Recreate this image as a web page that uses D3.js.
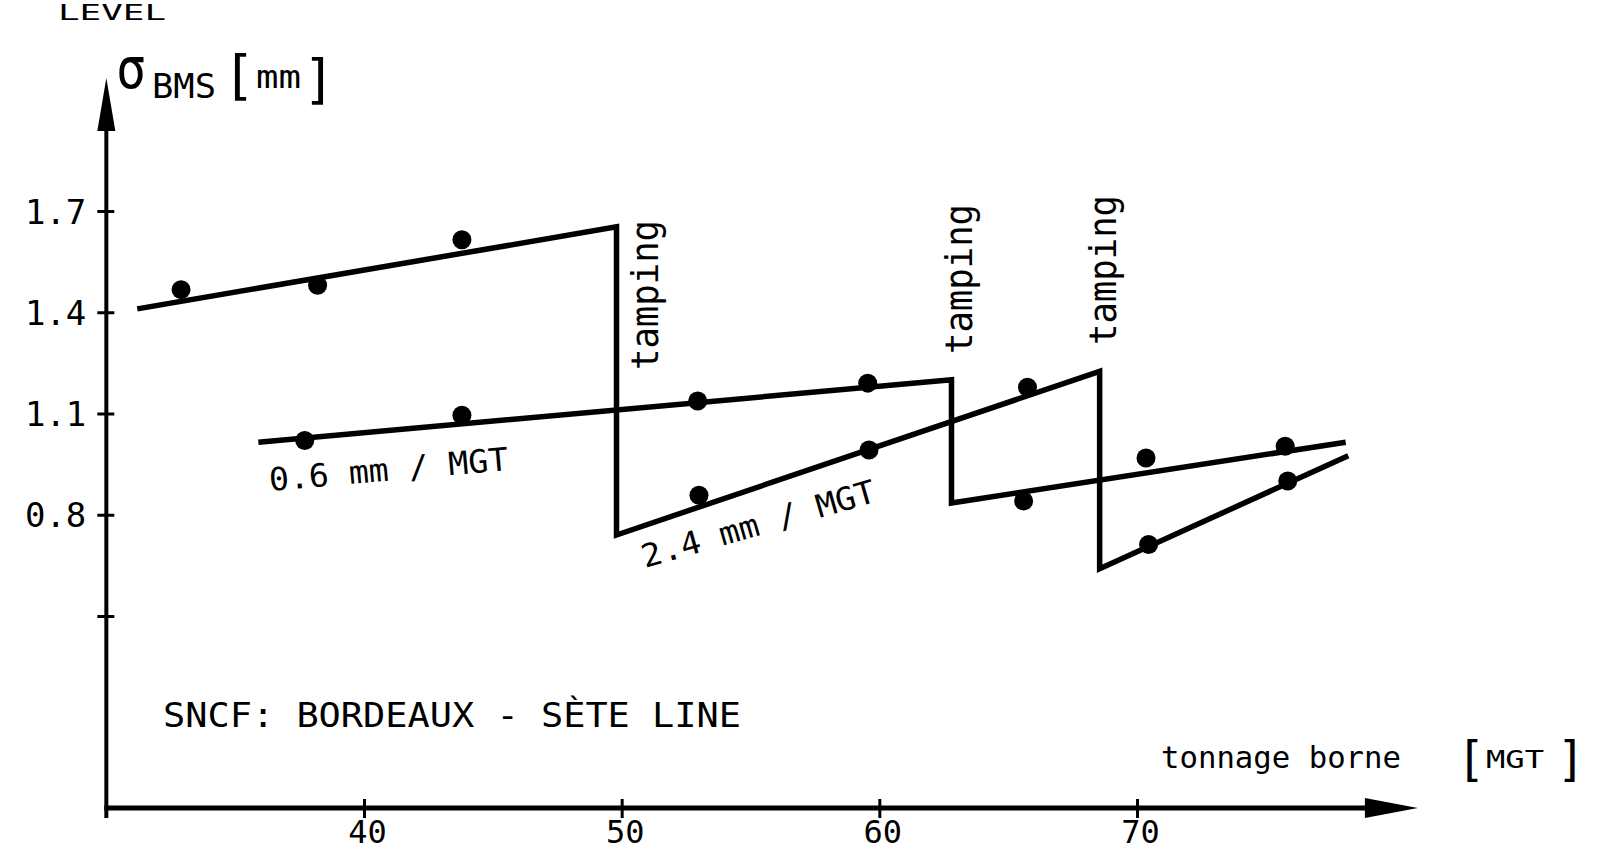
<!DOCTYPE html>
<html><head><meta charset="utf-8">
<script src="https://cdn.jsdelivr.net/npm/d3@7"></script>
<style>
body{margin:0;background:#fff;}
svg{display:block;}
text{font-family:"DejaVu Sans Mono",monospace;fill:#000;}
</style>
</head><body>
<svg id="chart" width="1600" height="852"></svg>
<script>
// ---------- data ----------
const xTicks = [40, 50, 60, 70];
const xTickLabels = ["40", "50", "60", "70"];
const yTicks = [1.7, 1.4, 1.1, 0.8, 0.5];
const yTickLabels = ["1.7", "1.4", "1.1", "0.8", ""];

// track with fast degradation (sawtooth with tampings)
const trackA_tonnage = [31.2, 49.8, 49.8, 68.55, 68.55, 78.2];
const trackA_sigma   = [1.41, 1.653, 0.74, 1.225, 0.64, 0.975];
// track with slow degradation
const trackB_tonnage = [35.9, 62.8, 62.8, 78.1];
const trackB_sigma   = [1.015, 1.2, 0.835, 1.015];

// measured points
const measA_tonnage = [32.9, 38.2, 43.8, 53.0, 59.6, 65.75, 70.45, 75.85];
const measA_sigma   = [1.467, 1.48, 1.615, 0.858, 0.992, 1.178, 0.712, 0.90];
const measB_tonnage = [37.7, 43.8, 52.95, 59.55, 65.6, 70.35, 75.75];
const measB_sigma   = [1.02, 1.095, 1.137, 1.19, 0.841, 0.968, 1.003];

const tampingTonnage = [49.8, 62.8, 68.55];
const tampingText = ["tamping", "tamping", "tamping"];
const rateLabels = ["0.6 mm / MGT", "2.4 mm / MGT"];

// ---------- layout ----------
const W = 1600, H = 852;
const axisY = 808;            // pixel row of the abscissa
const xMin = 30, xArrow = 80.9;
const x = d3.scaleLinear().domain([40, 70]).range([364, 1137]);
const y = d3.scaleLinear().domain([0.5, 1.7]).range([616, 211]);
const x0 = x(xMin);

const svg = d3.select("#chart");
svg.append("rect").attr("width", W).attr("height", H).attr("fill", "#fff");

// ---------- axes ----------
svg.append("line").attr("x1", x0).attr("x2", x0).attr("y1", 110).attr("y2", 818)
  .attr("stroke", "#000").attr("stroke-width", 4);
svg.append("path").attr("d", `M${x0},78 L${x0 - 9},131 L${x0 + 9},131 Z`).attr("fill", "#000");
svg.append("line").attr("x1", x0 - 2).attr("x2", x(xArrow) - 30).attr("y1", axisY).attr("y2", axisY)
  .attr("stroke", "#000").attr("stroke-width", 5);
svg.append("path").attr("d", `M${x(xArrow)},${axisY} L${x(xArrow) - 53},${axisY - 10} L${x(xArrow) - 53},${axisY + 10} Z`)
  .attr("fill", "#000");

const gy = svg.append("g").attr("transform", `translate(${x0},0)`)
  .call(d3.axisLeft(y).tickValues(yTicks).tickFormat((d, i) => yTickLabels[i]).tickSize(9));
gy.select(".domain").remove();
gy.selectAll(".tick line").attr("x1", 8).attr("x2", -9).attr("stroke", "#000").attr("stroke-width", 3);
gy.selectAll(".tick text").attr("x", -20).attr("dy", null).attr("y", 12)
  .attr("font-size", 34).attr("font-family", "DejaVu Sans Mono").attr("fill", "#000");

const gx = svg.append("g").attr("transform", `translate(0,${axisY})`)
  .call(d3.axisBottom(x).tickValues(xTicks).tickFormat((d, i) => xTickLabels[i]).tickSize(10));
gx.select(".domain").remove();
gx.selectAll(".tick line").attr("y1", -9).attr("y2", 10).attr("stroke", "#000").attr("stroke-width", 3);
gx.selectAll(".tick text").attr("y", 35).attr("dy", null).attr("x", 3)
  .attr("font-size", 32).attr("font-family", "DejaVu Sans Mono").attr("fill", "#000");

// ---------- tracks ----------
const line = d3.line().x(d => x(d[0])).y(d => y(d[1]));
const trackA = trackA_tonnage.map((t, i) => [t, trackA_sigma[i]]);
const trackB = trackB_tonnage.map((t, i) => [t, trackB_sigma[i]]);
[trackA, trackB].forEach(tr => {
  svg.append("path").attr("d", line(tr)).attr("fill", "none")
    .attr("stroke", "#000").attr("stroke-width", 5.5).attr("stroke-linejoin", "miter");
});

const pts = measA_tonnage.map((t, i) => [t, measA_sigma[i]])
  .concat(measB_tonnage.map((t, i) => [t, measB_sigma[i]]));
svg.selectAll("circle.m").data(pts).join("circle").attr("class", "m")
  .attr("cx", d => x(d[0])).attr("cy", d => y(d[1])).attr("r", 9.5).attr("fill", "#000");

// ---------- texts ----------
const tampLayout = [{dx: 41, yb: 370}, {dx: 21, yb: 354}, {dx: 16, yb: 345}];
tampingTonnage.forEach((t, i) => {
  svg.append("text")
    .attr("transform", `translate(${x(t) + tampLayout[i].dx},${tampLayout[i].yb}) rotate(-90)`)
    .attr("font-size", 38).attr("textLength", 150).attr("lengthAdjust", "spacingAndGlyphs")
    .text(tampingText[i]);
});

svg.append("text").attr("transform", "translate(270,491) rotate(-5)")
  .attr("font-size", 32).attr("textLength", 240).attr("lengthAdjust", "spacingAndGlyphs")
  .text(rateLabels[0]);
svg.append("text").attr("transform", "translate(645,568) rotate(-16)")
  .attr("font-size", 32).attr("textLength", 242).attr("lengthAdjust", "spacingAndGlyphs")
  .text(rateLabels[1]);

svg.append("text").attr("x", 163).attr("y", 727).attr("font-size", 34)
  .attr("textLength", 578).attr("lengthAdjust", "spacingAndGlyphs")
  .text("SNCF: BORDEAUX - SÈTE LINE");

svg.append("text").attr("x", 58).attr("y", 20).attr("font-size", 21)
  .attr("textLength", 108).attr("lengthAdjust", "spacingAndGlyphs").text("LEVEL");

svg.append("text").attr("x", 116).attr("y", 88).attr("font-size", 56)
  .attr("font-family", "DejaVu Sans").attr("textLength", 30).attr("lengthAdjust", "spacingAndGlyphs").text("σ");
svg.append("text").attr("x", 152).attr("y", 98).attr("font-size", 34)
  .attr("textLength", 64).attr("lengthAdjust", "spacingAndGlyphs").text("BMS");
svg.append("text").attr("x", 239).attr("y", 94).attr("font-size", 54).attr("text-anchor", "middle").text("[");
svg.append("text").attr("x", 256).attr("y", 88).attr("font-size", 32)
  .attr("textLength", 45).attr("lengthAdjust", "spacingAndGlyphs").text("mm");
svg.append("text").attr("x", 319).attr("y", 98).attr("font-size", 54).attr("text-anchor", "middle").text("]");

svg.append("text").attr("x", 1161).attr("y", 768).attr("font-size", 30)
  .attr("textLength", 240).attr("lengthAdjust", "spacingAndGlyphs").text("tonnage borne");
svg.append("text").attr("x", 1471).attr("y", 776).attr("font-size", 48).attr("text-anchor", "middle").text("[");
svg.append("text").attr("x", 1486).attr("y", 768).attr("font-size", 25)
  .attr("textLength", 58).attr("lengthAdjust", "spacingAndGlyphs").text("MGT");
svg.append("text").attr("x", 1571).attr("y", 776).attr("font-size", 48).attr("text-anchor", "middle").text("]");
</script>
</body></html>
